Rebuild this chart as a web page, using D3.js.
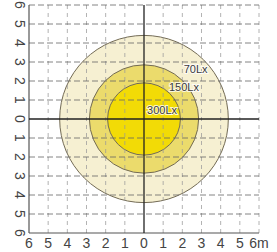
<!DOCTYPE html>
<html><head><meta charset="utf-8">
<script src="https://cdn.jsdelivr.net/npm/d3@7"></script>
<style>html,body{margin:0;padding:0;background:#fff;}</style>
</head><body>
<svg id="c" width="277" height="252"></svg>
<script>
const gridValues = [-6,-5,-4,-3,-2,-1,0,1,2,3,4,5,6];
const xTickLabels = ["6","5","4","3","2","1","0","1","2","3","4","5","6m"];
const yTickLabels = ["6","5","4","3","2","1","0","1","2","3","4","5","6"];
const zoneNames = ["70Lx","150Lx","300Lx"];
const zoneRadii = [4.4, 2.85, 1.9];

const svg = d3.select("#c");
const x = d3.scaleLinear().domain([-6,6]).range([29, 259]);
const y = d3.scaleLinear().domain([-6,6]).range([233, 5]);
const fills = ["#f6f0d2","#ebdb6c","#f2db06"];
const labelPos = [[2.07,2.4],[1.3,1.46],[0.16,0.25]];

// zones
svg.append("g").selectAll("ellipse").data(zoneRadii).join("ellipse")
  .attr("cx", x(0)).attr("cy", y(0))
  .attr("rx", d => x(d) - x(0)).attr("ry", d => y(0) - y(d))
  .attr("fill", (d,i) => fills[i])
  .attr("stroke", "#736b55").attr("stroke-width", 1);

// vertical grid
svg.append("g").selectAll("line").data(gridValues.filter(v => v !== 0 && v !== -6)).join("line")
  .attr("x1", d => x(d)).attr("x2", d => x(d))
  .attr("y1", y(6)).attr("y2", y(-6))
  .attr("stroke", "#9a9a9a").attr("stroke-width", 1)
  .attr("stroke-dasharray", "4,4").attr("opacity", 0.75);
// horizontal grid
svg.append("g").selectAll("line").data(gridValues.filter(v => v !== 0 && v !== -6)).join("line")
  .attr("x1", x(-6)).attr("x2", x(6))
  .attr("y1", d => y(d)).attr("y2", d => y(d))
  .attr("stroke", "#666").attr("stroke-width", 1)
  .attr("stroke-dasharray", "6,3").attr("opacity", 0.8);

// axes
const ax = svg.append("g").attr("stroke", "#555").attr("stroke-width", 1.2);
ax.append("line").attr("x1", x(-6)).attr("x2", x(-6)).attr("y1", y(6)).attr("y2", y(-6));
ax.append("line").attr("x1", x(-6)).attr("x2", x(6)).attr("y1", y(-6)).attr("y2", y(-6));
const cx = svg.append("g").attr("stroke", "#222").attr("stroke-width", 1.3);
cx.append("line").attr("x1", x(0)).attr("x2", x(0)).attr("y1", y(6)).attr("y2", y(-6));
cx.append("line").attr("x1", x(-6)).attr("x2", x(6)).attr("y1", y(0)).attr("y2", y(0));

// zone labels
svg.append("g").selectAll("text").data(zoneNames).join("text")
  .attr("x", (d,i) => x(labelPos[i][0])).attr("y", (d,i) => y(labelPos[i][1]))
  .attr("font-family", "Liberation Sans, Arial, sans-serif").attr("font-size", 11)
  .attr("fill", "#3a3a3a").attr("stroke", "#fff").attr("stroke-width", 2)
  .attr("stroke-opacity", 0.8).attr("paint-order", "stroke")
  .text(d => d);

// x tick labels
svg.append("g").selectAll("text").data(gridValues).join("text")
  .attr("x", d => x(d)).attr("y", 248)
  .attr("text-anchor", "middle")
  .attr("font-family", "Liberation Sans, Arial, sans-serif").attr("font-size", 14)
  .attr("fill", "#444")
  .text((d,i) => xTickLabels[i]);

// y tick labels (rotated)
svg.append("g").selectAll("text").data(gridValues.slice().reverse()).join("text")
  .attr("transform", d => `translate(15,${y(d)}) rotate(90)`)
  .attr("text-anchor", "middle")
  .attr("font-family", "Liberation Sans, Arial, sans-serif").attr("font-size", 14)
  .attr("fill", "#444")
  .text((d,i) => yTickLabels[i]);
</script>
</body></html>
